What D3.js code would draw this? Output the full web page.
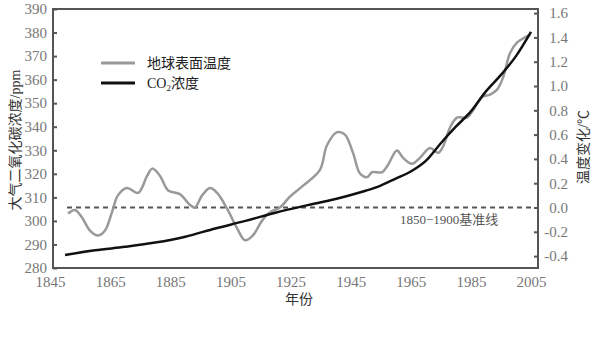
<!DOCTYPE html>
<html>
<head>
<meta charset="utf-8">
<script src="https://cdn.jsdelivr.net/npm/d3@7"></script>
<style>
  body { margin: 0; background: #fff; }
  text { font-family: "Liberation Serif", "Noto Sans CJK SC", serif; }
</style>
</head>
<body>
<div id="chart"></div>
<script>
// data
const co2Years = [1850, 1860, 1870, 1880, 1890, 1900, 1910, 1920, 1930, 1940, 1950, 1955, 1960, 1965, 1970, 1975, 1980, 1985, 1990, 1995, 2000, 2005];
const co2Values = [285.5, 287.5, 289, 290.8, 293.3, 296.8, 300, 303.5, 306.5, 309.3, 312.8, 315, 318, 321, 325.5, 333, 340, 346.5, 355, 362, 370, 380.3];

const tempYears = [1851, 1853.3, 1855.6, 1858.3, 1861, 1863.3, 1865.6, 1867.6, 1870.6, 1874.3, 1877.3, 1879, 1881.6, 1884.3, 1888.2, 1891.6, 1893.2, 1895.6, 1898.2, 1900.6, 1903.9, 1907.2, 1909.9, 1912.5, 1915.5, 1918.2, 1921.5, 1924.8, 1929.2, 1934.8, 1937.1, 1940.5, 1943.1, 1945.8, 1948.1, 1950.5, 1952.1, 1955.4, 1957.4, 1960.4, 1962.4, 1965.4, 1968.1, 1971.4, 1974.1, 1975.7, 1978.1, 1980.4, 1983.7, 1985.7, 1988.7, 1991.4, 1993.7, 1995.7, 1998, 2000.4, 2003, 2004.7];
const tempValues = [-0.05, -0.02, -0.08, -0.19, -0.23, -0.19, -0.04, 0.10, 0.16, 0.12, 0.26, 0.32, 0.26, 0.14, 0.11, 0.02, 0.0, 0.10, 0.16, 0.12, -0.01, -0.17, -0.27, -0.23, -0.11, -0.04, 0.0, 0.09, 0.18, 0.31, 0.51, 0.62, 0.60, 0.45, 0.28, 0.25, 0.29, 0.29, 0.35, 0.47, 0.41, 0.36, 0.41, 0.49, 0.45, 0.50, 0.66, 0.74, 0.74, 0.80, 0.91, 0.93, 0.97, 1.07, 1.27, 1.36, 1.40, 1.42];

const yearTicks = [1845, 1865, 1885, 1905, 1925, 1945, 1965, 1985, 2005];
const ppmTicks = [280, 290, 300, 310, 320, 330, 340, 350, 360, 370, 380, 390];
const tempTicks = [-0.4, -0.2, 0.0, 0.2, 0.4, 0.6, 0.8, 1.0, 1.2, 1.4, 1.6];
const baselineYears = [1850, 2005];
const baselineValue = 0.0;

const width = 593;
const height = 351;
const plot = {left: 53, right: 538, top: 9, bottom: 268};

const svg = d3.select("#chart")
  .append("svg")
    .attr("width", width)
    .attr("height", height);

const x = d3.scaleLinear().domain([1845, 2005]).range([50, 531]);
const yL = d3.scaleLinear().domain([280, 390]).range([plot.bottom, plot.top]);
const yR = d3.scaleLinear().domain([-0.498, 1.634]).range([plot.bottom, plot.top]);

// frame
svg.append("rect")
  .attr("x", plot.left)
  .attr("y", plot.top)
  .attr("width", plot.right - plot.left)
  .attr("height", plot.bottom - plot.top)
  .attr("fill", "none")
  .attr("stroke", "#555")
  .attr("stroke-width", 2);

// left axis
const leftAxis = svg.append("g")
  .attr("transform", `translate(${plot.left},0)`)
  .call(d3.axisLeft(yL).tickValues(ppmTicks).tickSize(-4).tickPadding(6).tickFormat(d3.format("d")));
leftAxis.select(".domain").remove();
leftAxis.selectAll("line").attr("stroke", "#555").attr("stroke-width", 2);
leftAxis.selectAll("text").attr("fill", "#777").style("font-size", "15px")
  .style("font-family", "Liberation Serif");

// right axis (ticks inside, labels right aligned)
const rightAxis = svg.append("g")
  .attr("transform", `translate(${plot.right},0)`)
  .call(d3.axisRight(yR).tickValues(tempTicks).tickSize(-4).tickPadding(30).tickFormat(d3.format(".1f")));
rightAxis.select(".domain").remove();
rightAxis.selectAll("line").attr("stroke", "#555").attr("stroke-width", 2);
rightAxis.selectAll("text").attr("fill", "#777").style("font-size", "15px")
  .style("font-family", "Liberation Serif")
  .attr("text-anchor", "end")
  .text(d => d3.format(".1f")(d).replace("−", "-"));

// bottom labels, no tick marks
const bottomAxis = svg.append("g")
  .attr("transform", `translate(0,${plot.bottom})`)
  .call(d3.axisBottom(x).tickValues(yearTicks).tickSize(0).tickPadding(8).tickFormat(d3.format("d")));
bottomAxis.select(".domain").remove();
bottomAxis.selectAll("text").attr("fill", "#777").style("font-size", "15px")
  .style("font-family", "Liberation Serif");

// baseline
svg.append("line")
  .attr("x1", x(baselineYears[0]) + 2)
  .attr("x2", x(baselineYears[1]))
  .attr("y1", yR(baselineValue))
  .attr("y2", yR(baselineValue))
  .attr("stroke", "#555")
  .attr("stroke-width", 2)
  .attr("stroke-dasharray", "5,4");

svg.append("text")
  .attr("x", 400)
  .attr("y", 224)
  .attr("fill", "#555")
  .style("font-size", "13px")
  .text("1850−1900基准线");

// temperature line
const tempData = tempYears.map((d, i) => ({year: d, value: tempValues[i]}));
svg.append("path")
  .datum(tempData)
  .attr("fill", "none")
  .attr("stroke", "#999")
  .attr("stroke-width", 2.5)
  .attr("d", d3.line()
    .x(d => x(d.year))
    .y(d => yR(d.value))
    .curve(d3.curveCatmullRom.alpha(0.5)));

// CO2 line
const co2Data = co2Years.map((d, i) => ({year: d, value: co2Values[i]}));
svg.append("path")
  .datum(co2Data)
  .attr("fill", "none")
  .attr("stroke", "#111")
  .attr("stroke-width", 2.5)
  .attr("d", d3.line()
    .x(d => x(d.year))
    .y(d => yL(d.value))
    .curve(d3.curveMonotoneX));

// legend
const legend = svg.append("g");
legend.append("line")
  .attr("x1", 101).attr("x2", 135).attr("y1", 63).attr("y2", 63)
  .attr("stroke", "#999").attr("stroke-width", 3);
legend.append("text")
  .attr("x", 147).attr("y", 68)
  .attr("fill", "#222")
  .style("font-size", "14px")
  .text("地球表面温度");
legend.append("line")
  .attr("x1", 101).attr("x2", 135).attr("y1", 83).attr("y2", 83)
  .attr("stroke", "#111").attr("stroke-width", 3);
const co2Label = legend.append("text")
  .attr("x", 147).attr("y", 88)
  .attr("fill", "#222")
  .style("font-size", "14px");
co2Label.append("tspan").text("CO");
co2Label.append("tspan").attr("dy", 3).style("font-size", "9px").text("2");
co2Label.append("tspan").attr("dy", -3).text("浓度");

// axis titles
svg.append("text")
  .attr("transform", "translate(20,140) rotate(-90)")
  .attr("text-anchor", "middle")
  .attr("fill", "#333")
  .style("font-size", "14px")
  .text("大气二氧化碳浓度/ppm");

svg.append("text")
  .attr("transform", "translate(588,147) rotate(-90)")
  .attr("text-anchor", "middle")
  .attr("fill", "#333")
  .style("font-size", "14px")
  .text("温度变化/℃");

svg.append("text")
  .attr("x", 299)
  .attr("y", 304)
  .attr("text-anchor", "middle")
  .attr("fill", "#333")
  .style("font-size", "14px")
  .text("年份");
</script>
</body>
</html>
